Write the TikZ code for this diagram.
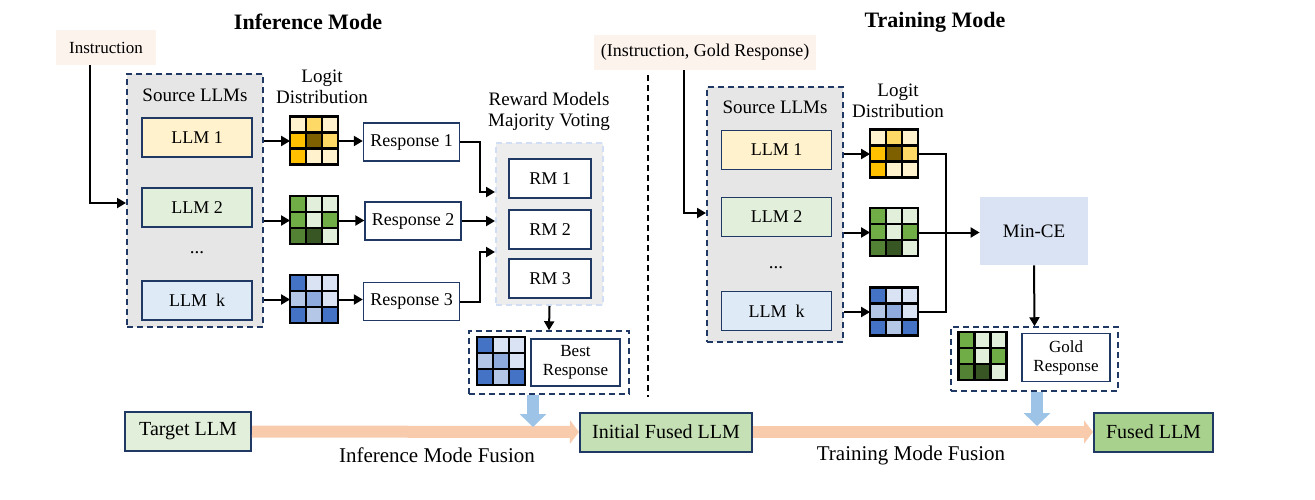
\documentclass[tikz,border=0pt]{standalone}
\usepackage{fontspec}
\setmainfont{Liberation Serif}
\usetikzlibrary{positioning}
\usetikzlibrary{calc}
\usetikzlibrary{arrows.meta}

\definecolor{navy}{RGB}{32,56,100}
\definecolor{srcgray}{RGB}{231,230,230}
\definecolor{rmgray}{RGB}{237,237,237}
\definecolor{rmedge}{RGB}{210,222,243}
\definecolor{instrfill}{RGB}{253,243,237}
\definecolor{peach}{RGB}{248,203,173}
\definecolor{skyarrow}{RGB}{157,195,230}
\definecolor{mincefill}{RGB}{218,227,243}
\definecolor{llmyel}{RGB}{255,242,204}
\definecolor{llmgrn}{RGB}{226,239,218}
\definecolor{llmblu}{RGB}{222,235,247}
\definecolor{initgrn}{RGB}{197,224,180}
\definecolor{fusedgrn}{RGB}{169,209,142}
% logit cells
\definecolor{yL}{RGB}{255,242,204}
\definecolor{yM}{RGB}{255,217,102}
\definecolor{yO}{RGB}{255,192,0}
\definecolor{yD}{RGB}{127,96,0}
\definecolor{gL}{RGB}{226,239,218}
\definecolor{gM}{RGB}{112,173,71}
\definecolor{gD}{RGB}{84,130,53}
\definecolor{gX}{RGB}{55,86,35}
\definecolor{bL}{RGB}{218,227,243}
\definecolor{bM}{RGB}{180,199,231}
\definecolor{bN}{RGB}{143,170,220}
\definecolor{bD}{RGB}{68,114,196}

\tikzset{
    llm/.style = {draw = navy, line width = 0.75pt, minimum width = 55pt, minimum height = 19.5pt, font = \fontsize{9}{10}\selectfont},
    resp/.style = {draw = navy, fill = white, line width = 0.75pt, minimum width = 47.5pt, minimum height = 19pt, font = \fontsize{9}{10}\selectfont},
    srcbox/.style = {draw = navy, fill = srcgray, line width = 1pt, dash pattern = on 3pt off 2pt},
    pickbox/.style = {draw = navy, line width = 0.75pt, dash pattern = on 3pt off 2pt},
    caption/.style = {font = \fontsize{9.5}{10.5}\selectfont, align = center},
    heading/.style = {font = \fontsize{11}{13}\selectfont\bfseries},
    llmbox/.style = {draw = navy, line width = 1pt, minimum height = 19.5pt, font = \fontsize{10}{12}\selectfont},
    arr/.style = {-{Triangle[length = 4.5pt, width = 5pt]}, line width = 1pt},
    fuse/.style = {peach, line width = 6pt, -{Triangle[length = 4.5pt, width = 11.5pt]}},
    droparrow/.style = {skyarrow, line width = 6pt, -{Triangle[length = 6.5pt, width = 13pt]}},
    gridcell/.style = {inner sep = 0pt, minimum size = 24pt},
}

% 3x3 logit grid: name, centre, cell colours
\newcommand{\logitgrid}[3]{%
    \node[gridcell] (#1) at (#2) {};
    \foreach \c [count = \i from 0] in {#3} {
        \pgfmathtruncatemacro{\gx}{mod(\i,3)}
        \pgfmathtruncatemacro{\gy}{div(\i,3)}
        \filldraw[fill = \c, draw = black, line width = 1.3pt] ($(#1.north west) + (\gx*8pt, -\gy*8pt)$) rectangle ++(8pt, -8pt);
    }
}

\begin{document}
\begin{tikzpicture}[x = 0.5pt, y = -0.5pt]
    \useasboundingbox (0,0) rectangle (1315,499);
    % titles %
    \node[heading] (tinf) at (308,22) {Inference Mode};
    \node[heading] (ttrn) at (935,22) {Training Mode};

    % inference nodes %
    \node[fill = instrfill, minimum width = 50pt, minimum height = 17.5pt, font = \fontsize{8.5}{10}\selectfont] (instrA) at (106,47.5) {Instruction};
    \node[srcbox, minimum width = 68pt, minimum height = 126.5pt] (srcA) at (195,200.5) {};
    \node[caption] (srcAt) at (195,95) {Source LLMs};
    \node[llm, fill = llmyel] (llmA1) at (197,137.5) {LLM 1};
    \node[llm, fill = llmgrn] (llmA2) at (197,207.5) {LLM 2};
    \node[caption] (dotsA) at (197,253) {...};
    \node[llm, fill = llmblu] (llmAk) at (197,300.5) {LLM\ \ k};
    \node[caption] (logitA) at (322,87) {Logit\\Distribution};
    \logitgrid{gA1}{314.5,141}{yL,yM,yL,yO,yD,yM,yO,yL,yL}
    \logitgrid{gA2}{314.5,220.5}{gM,gL,gL,gM,gL,gM,gD,gX,gL}
    \logitgrid{gA3}{314.5,299.5}{bD,bL,bL,bM,bN,bL,bD,bM,bD}
    \node[resp] (respA1) at (411.5,142) {Response 1};
    \node[resp] (respA2) at (413,221) {Response 2};
    \node[resp] (respA3) at (411.5,301.5) {Response 3};
    \node[caption] (rmlab) at (549,111.5) {Reward Models\\Majority Voting};
    \node[draw = rmedge, fill = rmgray, line width = 1pt, dash pattern = on 3pt off 2pt, minimum width = 53.5pt, minimum height = 81pt] (rmbox) at (549.5,224) {};
    \node[resp, minimum width = 41pt, minimum height = 19.5pt] (rm1) at (550,178.5) {RM 1};
    \node[resp, minimum width = 41pt, minimum height = 19.5pt] (rm2) at (550,229.5) {RM 2};
    \node[resp, minimum width = 41pt, minimum height = 19.5pt] (rm3) at (550,278.5) {RM 3};
    \node[pickbox, minimum width = 80pt, minimum height = 31.5pt] (bestbox) at (549,362.5) {};
    \logitgrid{gBest}{501.5,361.5}{bD,bL,bL,bM,bN,bL,bD,bM,bD}
    \node[resp, minimum width = 44.5pt, minimum height = 23.5pt, align = center, font = \fontsize{8.5}{9.5}\selectfont] (bestresp) at (575.5,362.5) {Best\\Response};

    % bottom row %
    \node[llmbox, fill = llmgrn, minimum width = 63pt] (target) at (188,431.5) {Target LLM};
    \node[llmbox, fill = initgrn, minimum width = 86pt] (initial) at (666,432) {Initial Fused LLM};
    \node[llmbox, fill = fusedgrn, minimum width = 59.5pt] (fused) at (1153.5,432) {Fused LLM};
    \node[font = \fontsize{10.5}{12}\selectfont] (fuseA) at (437,455) {Inference Mode Fusion};
    \node[font = \fontsize{10.5}{12}\selectfont] (fuseB) at (911,455) {Training Mode Fusion};

    % training nodes %
    \node[fill = instrfill, minimum width = 110pt, minimum height = 17.5pt, font = \fontsize{9}{10}\selectfont] (instrB) at (705,52.5) {(Instruction, Gold Response)};
    \node[srcbox, minimum width = 68pt, minimum height = 127.5pt] (srcB) at (775,214.5) {};
    \node[caption] (srcBt) at (775,107) {Source LLMs};
    \node[llm, fill = llmyel] (llmB1) at (776.5,150) {LLM 1};
    \node[llm, fill = llmgrn] (llmB2) at (776.5,217) {LLM 2};
    \node[caption] (dotsB) at (776,268) {...};
    \node[llm, fill = llmblu] (llmBk) at (776.5,311) {LLM\ \ k};
    \node[caption] (logitB) at (898,101) {Logit\\Distribution};
    \logitgrid{gB1}{894.5,154}{yL,yM,yL,yO,yD,yM,yO,yL,yL}
    \logitgrid{gB2}{894.5,232.5}{gM,gL,gL,gM,gL,gM,gD,gX,gL}
    \logitgrid{gB3}{894.5,312}{bD,bL,bL,bM,bN,bL,bD,bM,bD}
    \node[fill = mincefill, minimum width = 54pt, minimum height = 34pt, font = \fontsize{9.5}{10.5}\selectfont] (minCE) at (1034,231) {Min-CE};
    \node[pickbox, minimum width = 83.5pt, minimum height = 32pt] (goldbox) at (1034.5,359) {};
    \logitgrid{gGold}{983,356.5}{gM,gL,gL,gM,gL,gM,gD,gX,gL}
    \node[resp, minimum width = 44pt, minimum height = 23.5pt, align = center, font = \fontsize{8.5}{9.5}\selectfont] (goldresp) at (1066,357.5) {Gold\\Response};

    % separator %
    \coordinate (sepTop) at (648,75);
    \coordinate (sepBot) at (648,397);
    \draw[line width = 0.6pt, dash pattern = on 3pt off 2pt] (sepTop) -- (sepBot);

    % edges: inference %
    \coordinate (inA) at (90,203);
    \draw[arr] (inA |- instrA.south) |- (srcA.west |- inA);
    \foreach \i in {1,2,3} {
        \draw[arr] (srcA.east |- gA\i.west) -- (gA\i.west);
        \draw[arr] (gA\i.east) -- (gA\i.east -| respA\i.west);
    }
    \draw[arr] (respA1.east) -- ++(10pt,0) |- ([yshift = 16pt]rmbox.west);
    \draw[arr] (respA2.east) -- (respA2.east -| rmbox.west);
    \draw[arr] (respA3.east) -- ++(10pt,0) |- ([yshift = -14pt]rmbox.west);
    \draw[arr] (rmbox.south) -- (bestbox.north);

    % edges: training %
    \coordinate (inB) at (684,213);
    \draw[arr] (inB |- instrB.south) |- (srcB.west |- inB);
    \foreach \i in {1,2,3} {
        \draw[arr] (srcB.east |- gB\i.west) -- (gB\i.west);
    }
    \coordinate (jn) at (946,232);
    \draw[line width = 0.6pt] (gB1.east) -| (jn) |- (gB3.east);
    \draw[arr] (gB2.east) -- (gB2.east -| minCE.west);
    \draw[arr] (minCE.south) -- (goldbox.north);

    % fusion arrows %
    \draw[fuse] (target.east) -- (initial.west);
    \draw[fuse] (initial.east) -- (fused.west);
    \coordinate (dropA) at (533,427);
    \coordinate (dropB) at (1037,426);
    \draw[droparrow] (dropA |- bestbox.south) -- (dropA);
    \draw[droparrow] (dropB |- goldbox.south) -- (dropB);
\end{tikzpicture}
\end{document}
